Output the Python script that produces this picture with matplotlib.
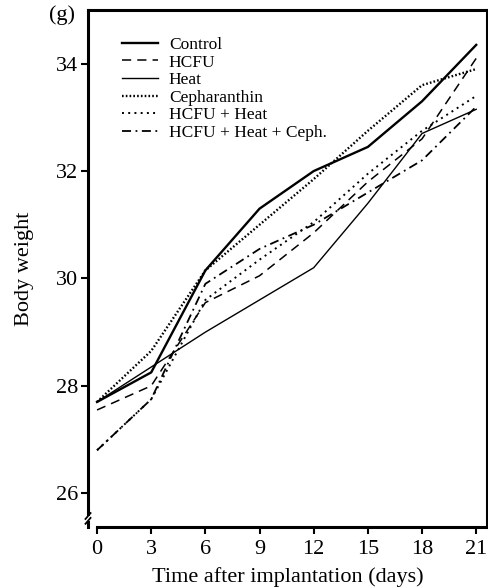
import matplotlib
matplotlib.use("Agg")
import matplotlib.pyplot as plt

# Body weight (g)
days = [0, 3, 6, 9, 12, 15, 18, 21]
control = [27.7, 28.25, 30.15, 31.3, 32.0, 32.45, 33.3, 34.35]
hcfu = [27.55, 28.0, 29.55, 30.05, 30.85, 31.8, 32.6, 34.1]
heat = [27.7, 28.35, 29.0, 29.6, 30.2, 31.4, 32.7, 33.15]
ceph = [27.7, 28.65, 30.15, 31.0, 31.85, 32.75, 33.6, 33.9]
hcfu_heat = [26.8, 27.75, 29.6, 30.35, 31.05, 31.95, 32.75, 33.4]
hcfu_heat_ceph = [26.8, 27.75, 29.9, 30.55, 31.0, 31.6, 32.2, 33.2]

labels = ["Control", "HCFU", "Heat", "Cepharanthin", "HCFU + Heat", "HCFU + Heat + Ceph."]
yticks = [26, 28, 30, 32, 34]

plt.rcParams['font.family'] = ['Liberation Serif', 'DejaVu Serif']

fig = plt.figure(figsize=(4.89, 5.88), dpi=100)
ax = fig.add_axes([0.18, 0.1037, 0.816, 0.8793])

ax.plot(days, control, color='black', lw=1.7, ls='-', label=labels[0])
ax.plot(days, hcfu, color='black', lw=1.1, ls=(0, (6, 4)), label=labels[1])
ax.plot(days, heat, color='black', lw=1.0, ls='-', label=labels[2])
ax.plot(days, ceph, color='black', lw=1.7, ls=(0, (0.7, 0.9)), label=labels[3])
ax.plot(days, hcfu_heat, color='black', lw=1.4, ls=(0, (1, 2.2)), label=labels[4])
ax.plot(days, hcfu_heat_ceph, color='black', lw=1.3, ls=(0, (5, 2.5, 1, 2.5)), label=labels[5])

ax.set_xlim(-0.5, 21.6)
ax.set_ylim(25.37, 35.0)
ax.set_xticks(days)
ax.set_yticks(yticks)
ax.tick_params(axis='both', labelsize=16, direction='out', length=5, width=1.5)
ax.tick_params(axis='x', pad=4)
ax.tick_params(axis='y', pad=2)

for s in ['left', 'top', 'right', 'bottom']:
    ax.spines[s].set_linewidth(2.2)
ax.spines['left'].set_bounds(25.62, 35.0)
ax.spines['bottom'].set_bounds(0, 21.6)

# axis break marks on the left spine
ax.plot([-0.64, -0.36], [25.52, 25.63], color='black', lw=1.3, clip_on=False)
ax.plot([-0.64, -0.36], [25.43, 25.54], color='black', lw=1.3, clip_on=False)
ax.plot([-0.5, -0.5], [25.37, 25.47], color='black', lw=2.2, clip_on=False)

ax.set_ylabel("Body weight", fontsize=16, labelpad=16)
ax.set_xlabel("Time after implantation (days)", fontsize=16, labelpad=6)
ax.text(-1.2, 34.9, "(g)", fontsize=16, ha='right', va='center')

ax.legend(loc='upper left', bbox_to_anchor=(0.085, 0.948), frameon=False,
          fontsize=12.5, handlelength=2.1, handletextpad=0.6,
          labelspacing=0.08, borderpad=0, borderaxespad=0)

fig.savefig("out.png", dpi=100)
